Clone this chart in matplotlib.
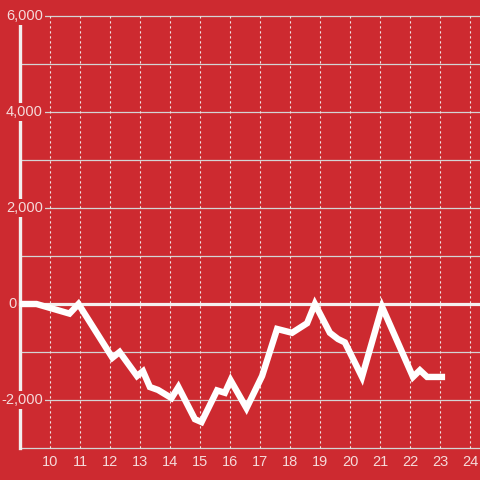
import matplotlib
matplotlib.use("Agg")
import matplotlib.pyplot as plt

# data
xs = [9.0, 9.55, 10.65, 10.95, 12.08, 12.32, 12.9, 13.1, 13.33, 13.6, 14.05, 14.28,
      14.83, 15.05, 15.57, 15.83, 16.02, 16.55, 17.07, 17.57, 18.07, 18.57, 18.83,
      19.33, 19.6, 19.83, 20.4, 21.07, 22.1, 22.33, 22.57, 23.17]
ys = [0, 0, -200, 0, -1120, -1000, -1500, -1400, -1730, -1790, -1960, -1730,
      -2400, -2460, -1800, -1850, -1590, -2170, -1500, -520, -600, -400, 0,
      -600, -730, -800, -1520, -60, -1520, -1380, -1520, -1520]
x_ticks = list(range(10, 25))
y_ticks = [-2000, 0, 2000, 4000, 6000]
y_ticklabels = ["-2,000", "0", "2,000", "4,000", "6,000"]
y_grid = list(range(-3000, 7000, 1000))

BG = "#cd2a30"
TXT = "#f5dada"

plt.rcParams['font.family'] = ['Liberation Sans', 'DejaVu Sans']
fig = plt.figure(figsize=(4.8, 4.8), dpi=100, facecolor=BG)
ax = fig.add_axes([0, 0, 1, 1])
ax.set_facecolor(BG)
for s in ax.spines.values():
    s.set_visible(False)
ax.set_xticks([]); ax.set_yticks([])

# pixel mapping: x=9 -> 20px, 30px/unit ; y=0 -> 304px from top, 96px per 2000
x0 = 9 - 20 / 30
x1 = x0 + 480 / 30
upp = 2000 / 96
ax.set_xlim(x0, x1)
ax.set_ylim(-(480 - 304) * upp, 304 * upp)

xmin_plot = 9.0
ymin_plot, ymax_plot = -3000, 6000

for g in y_grid:
    if g == 0:
        continue
    ax.plot([xmin_plot, x1], [g, g], color="#d4d4d4", lw=0.9, zorder=1)
for xt in x_ticks:
    ax.plot([xt, xt], [ymin_plot, ymax_plot], color="#f0e6e6", lw=0.8,
            linestyle=(0, (2, 2.5)), zorder=1)

# zero line
ax.plot([xmin_plot, x1], [0, 0], color="#f4f0f0", lw=2.3, zorder=2)
# left spine
ax.plot([xmin_plot, xmin_plot], [ymin_plot, ymax_plot], color="#f2eeee", lw=2.4, zorder=2)

# data line
ax.plot(xs, ys, color="white", lw=4.6, solid_joinstyle="miter", solid_capstyle="butt", zorder=4)

# y labels
for v, lab in zip(y_ticks, y_ticklabels):
    if v == 0:
        ax.text(x0 + 8 / 30, v, lab, ha="left", va="center", fontsize=10.5, color=TXT, zorder=5)
    else:
        ax.text(x0 + 43 / 30, v, lab, ha="right", va="center", fontsize=10.5, color=TXT, zorder=5,
                bbox=dict(boxstyle="square,pad=0.15", fc=BG, ec="none"))

# x labels
for xt in x_ticks:
    ax.text(xt, -(462 - 304) * upp, str(xt), ha="center", va="center", fontsize=10.5, color=TXT, zorder=5)

fig.savefig("out.png", dpi=100, facecolor=BG)
